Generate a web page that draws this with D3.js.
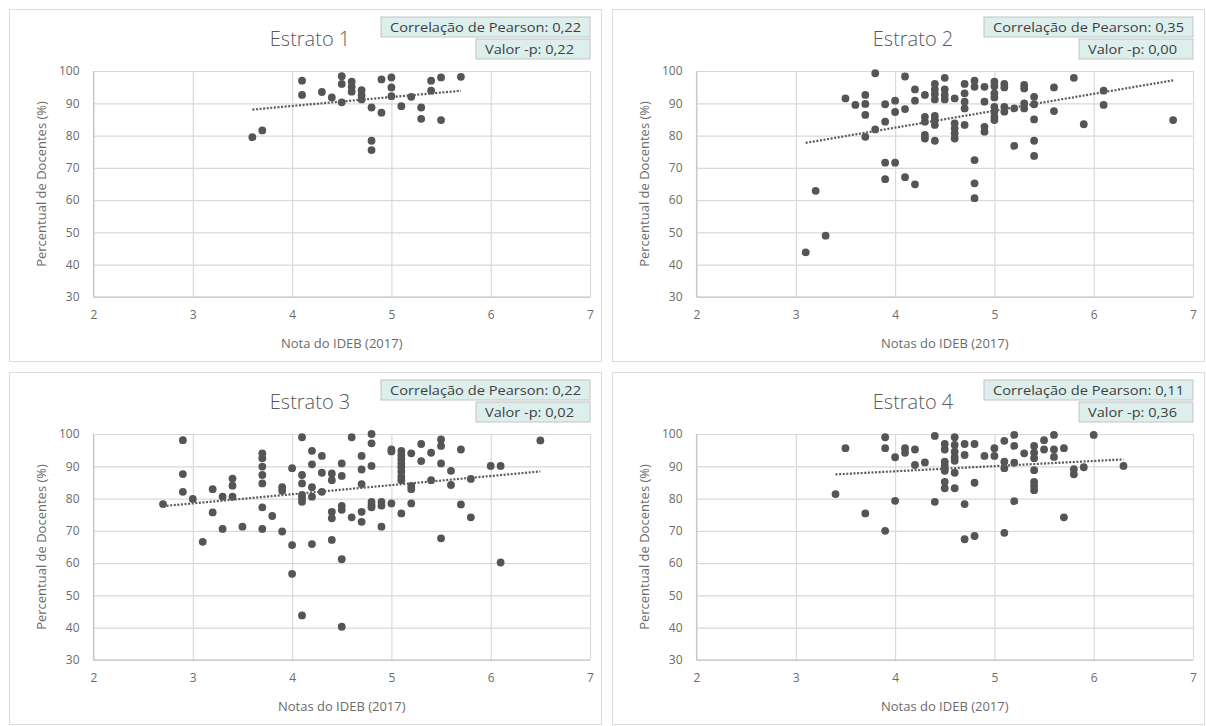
<!DOCTYPE html>
<html>
<head>
<meta charset="utf-8">
<script src="https://cdn.jsdelivr.net/npm/d3@7"></script>
<style>
  body { margin: 0; background: #fff; }
  svg { display: block; font-family: "Open Sans", "Noto Sans", sans-serif; }
</style>
</head>
<body>
<svg id="chart" width="1206" height="726"></svg>
<script>
// ---- Data -------------------------------------------------------------
const titles = ["Estrato 1", "Estrato 2", "Estrato 3", "Estrato 4"];
const xTitles = ["Nota do IDEB (2017)", "Notas do IDEB (2017)", "Notas do IDEB (2017)", "Notas do IDEB (2017)"];
const yTitle = "Percentual de Docentes (%)";
const pearsonLabels = ["Correlação de Pearson: 0,22", "Correlação de Pearson: 0,35", "Correlação de Pearson: 0,22", "Correlação de Pearson: 0,11"];
const pValueLabels = ["Valor -p: 0,22", "Valor -p: 0,00", "Valor -p: 0,02", "Valor -p: 0,36"];
const xTicks = [2, 3, 4, 5, 6, 7];
const yTicks = [30, 40, 50, 60, 70, 80, 90, 100];

// [nota IDEB, percentual de docentes]
const estrato1 = [
  [3.6,79.5],[3.7,81.6],[4.1,97.0],[4.1,92.6],[4.3,93.5],[4.4,91.8],[4.5,98.4],[4.5,96.0],
  [4.5,90.3],[4.6,96.7],[4.6,95.1],[4.6,93.6],[4.7,94.1],[4.7,92.6],[4.7,91.2],[4.8,88.7],
  [4.8,78.4],[4.8,75.5],[4.9,87.1],[4.9,97.4],[5.0,98.0],[5.0,94.9],[5.0,92.2],[5.1,89.1],
  [5.2,92.0],[5.3,88.7],[5.3,85.2],[5.4,97.0],[5.4,93.9],[5.5,98.0],[5.5,84.8],[5.7,98.2]
];
const estrato2 = [
  [3.1,43.8],[3.2,62.9],[3.3,49.0],[3.5,91.5],[3.6,89.5],[3.7,92.6],[3.7,89.8],[3.7,86.4],
  [3.7,79.6],[3.8,99.3],[3.8,81.9],[3.9,89.7],[3.9,84.3],[3.9,71.6],[3.9,66.5],[4.0,90.8],
  [4.0,87.3],[4.0,71.6],[4.1,98.3],[4.1,88.2],[4.1,67.1],[4.2,94.3],[4.2,90.8],[4.2,64.9],
  [4.3,92.6],[4.3,85.8],[4.3,84.3],[4.3,80.2],[4.3,79.1],[4.4,96.0],[4.4,94.3],[4.4,92.8],
  [4.4,91.2],[4.4,86.1],[4.4,84.8],[4.4,83.3],[4.4,78.4],[4.5,97.9],[4.5,94.3],[4.5,92.6],
  [4.5,91.2],[4.6,91.5],[4.6,83.8],[4.6,82.2],[4.6,80.7],[4.6,79.1],[4.7,96.0],[4.7,93.1],
  [4.7,90.5],[4.7,88.4],[4.7,83.3],[4.8,97.0],[4.8,95.1],[4.8,72.4],[4.8,65.2],[4.8,60.6],
  [4.9,95.1],[4.9,90.5],[4.9,82.7],[4.9,81.2],[5.0,96.7],[5.0,95.3],[5.0,93.1],[5.0,91.8],
  [5.0,88.9],[5.0,87.4],[5.0,85.8],[5.0,84.8],[5.1,96.0],[5.1,94.9],[5.1,88.9],[5.1,87.4],
  [5.2,88.4],[5.2,76.8],[5.3,95.7],[5.3,94.6],[5.3,90.0],[5.3,88.4],[5.4,92.0],[5.4,89.7],
  [5.4,85.0],[5.4,78.4],[5.4,73.7],[5.6,94.9],[5.6,87.6],[5.8,97.9],[5.9,83.5],[6.1,93.9],
  [6.1,89.5],[6.8,84.8]
];
const estrato3 = [
  [2.7,78.3],[2.9,98.1],[2.9,87.6],[2.9,82.1],[3.0,79.9],[3.1,66.6],[3.2,82.9],[3.2,75.7],
  [3.3,80.6],[3.3,70.6],[3.4,86.2],[3.4,84.0],[3.4,80.6],[3.5,71.3],[3.7,94.0],[3.7,92.5],
  [3.7,89.9],[3.7,87.3],[3.7,84.7],[3.7,77.3],[3.7,70.6],[3.8,74.6],[3.9,83.5],[3.9,82.4],
  [3.9,69.8],[4.0,89.4],[4.0,65.6],[4.0,56.7],[4.1,99.0],[4.1,87.3],[4.1,84.7],[4.1,81.1],
  [4.1,80.1],[4.1,79.0],[4.1,43.8],[4.2,94.8],[4.2,90.6],[4.2,83.5],[4.2,80.6],[4.2,65.9],
  [4.3,93.2],[4.3,88.0],[4.3,82.1],[4.4,87.8],[4.4,85.7],[4.4,75.9],[4.4,73.9],[4.4,67.2],
  [4.5,90.9],[4.5,87.0],[4.5,77.7],[4.5,76.5],[4.5,61.2],[4.5,40.3],[4.6,99.0],[4.6,74.2],
  [4.7,93.2],[4.7,89.0],[4.7,84.5],[4.7,75.9],[4.7,72.8],[4.8,100.0],[4.8,97.1],[4.8,90.1],
  [4.8,79.0],[4.8,78.0],[4.8,77.3],[4.9,79.0],[4.9,77.8],[4.9,71.3],[5.0,95.2],[5.0,94.6],
  [5.0,78.5],[5.1,94.8],[5.1,93.5],[5.1,92.2],[5.1,90.9],[5.1,89.7],[5.1,88.3],[5.1,86.8],
  [5.1,85.7],[5.1,75.4],[5.2,94.0],[5.2,83.9],[5.2,82.9],[5.2,78.5],[5.3,96.9],[5.3,91.6],
  [5.4,94.2],[5.4,85.7],[5.5,98.3],[5.5,96.3],[5.5,90.9],[5.5,67.7],[5.6,88.6],[5.6,84.2],
  [5.7,95.2],[5.7,78.2],[5.8,86.1],[5.8,74.2],[6.0,90.1],[6.1,90.1],[6.1,60.2],[6.5,98.0]
];
const estrato4 = [
  [3.4,81.4],[3.5,95.6],[3.7,75.4],[3.9,99.0],[3.9,95.6],[3.9,70.0],[4.0,92.8],[4.0,79.3],
  [4.1,95.6],[4.1,94.2],[4.2,95.2],[4.2,90.4],[4.3,91.2],[4.4,99.4],[4.4,79.0],[4.5,96.9],
  [4.5,95.2],[4.5,91.4],[4.5,90.1],[4.5,88.6],[4.5,85.2],[4.5,83.2],[4.6,99.0],[4.6,96.6],
  [4.6,94.5],[4.6,92.8],[4.6,91.7],[4.6,88.0],[4.6,83.2],[4.7,96.9],[4.7,93.5],[4.7,78.3],
  [4.7,67.4],[4.8,96.9],[4.8,84.9],[4.8,68.4],[4.9,93.2],[5.0,95.6],[5.0,93.2],[5.1,97.9],
  [5.1,91.4],[5.1,89.4],[5.1,69.4],[5.2,99.7],[5.2,96.3],[5.2,91.1],[5.2,79.2],[5.3,94.0],
  [5.4,96.3],[5.4,94.2],[5.4,92.5],[5.4,88.8],[5.4,85.2],[5.4,83.9],[5.4,82.6],[5.5,98.1],
  [5.5,95.2],[5.6,99.7],[5.6,95.2],[5.6,92.9],[5.7,95.6],[5.7,74.2],[5.8,89.1],[5.8,87.5],
  [5.9,89.7],[6.0,99.7],[6.3,90.1]
];
const series = [estrato1, estrato2, estrato3, estrato4];

// ---- Drawing ------------------------------------------------------------
const svg = d3.select("#chart");
const panelOrigins = [[0, 0], [603, 0], [0, 363], [603, 363]];
const plot = { left: 93.5, right: 590, top: 71, bottom: 297 };
const textGray = "#6b6b6b";
const gridGray = "#d9d9d9";
const markGray = "#555555";

// least-squares fit, as used by a linear trendline
function linearFit(pts) {
  const n = pts.length;
  const mx = d3.mean(pts, d => d[0]);
  const my = d3.mean(pts, d => d[1]);
  let sxy = 0, sxx = 0;
  pts.forEach(([a, b]) => { sxy += (a - mx) * (b - my); sxx += (a - mx) * (a - mx); });
  const slope = sxy / sxx;
  return x => my + slope * (x - mx);
}

series.forEach((pts, i) => {
  const [ox, oy] = panelOrigins[i];
  const g = svg.append("g").attr("transform", `translate(${ox},${oy})`);

  // panel frame
  g.append("rect")
    .attr("x", 9.5).attr("y", 9.5).attr("width", 592).attr("height", 352)
    .attr("fill", "#fff").attr("stroke", "#dcdcdc").attr("stroke-width", 1);

  const x = d3.scaleLinear().domain([2, 7]).range([plot.left, plot.right]);
  const y = d3.scaleLinear().domain([30, 100]).range([plot.bottom, plot.top]);

  // horizontal gridlines + y labels
  const yAxis = g.append("g")
    .attr("transform", `translate(${plot.left},0)`)
    .call(d3.axisLeft(y).tickValues(yTicks).tickFormat(d3.format("d"))
      .tickSize(-(plot.right - plot.left)).tickPadding(14));
  yAxis.select(".domain").remove();
  yAxis.selectAll("line").attr("stroke", gridGray).attr("stroke-width", 1.2);
  yAxis.selectAll("text").attr("fill", textGray).attr("font-size", 12)
    .attr("font-family", "'Open Sans', sans-serif");

  // vertical gridlines + x labels
  const xAxis = g.append("g")
    .attr("transform", `translate(0,${plot.bottom})`)
    .call(d3.axisBottom(x).tickValues(xTicks).tickFormat(d3.format("d"))
      .tickSize(-(plot.bottom - plot.top)).tickPadding(13));
  xAxis.select(".domain").remove();
  xAxis.selectAll("line").attr("stroke", gridGray).attr("stroke-width", 1.2);
  xAxis.selectAll("text").attr("fill", textGray).attr("font-size", 12)
    .attr("font-family", "'Open Sans', sans-serif");

  // axis lines
  g.append("line")
    .attr("x1", x(2)).attr("x2", x(7)).attr("y1", y(30)).attr("y2", y(30))
    .attr("stroke", "#bfbfbf").attr("stroke-width", 1.2);
  g.append("line")
    .attr("x1", x(2)).attr("x2", x(2)).attr("y1", y(30)).attr("y2", y(100))
    .attr("stroke", "#c8c8c8").attr("stroke-width", 1.2);

  // points
  g.append("g").selectAll("circle").data(pts).join("circle")
    .attr("cx", d => x(d[0])).attr("cy", d => y(d[1])).attr("r", 3.9)
    .attr("fill", markGray);

  // dotted linear trendline across the data range
  const fit = linearFit(pts);
  const [xmin, xmax] = d3.extent(pts, d => d[0]);
  g.append("line")
    .attr("x1", x(xmin)).attr("y1", y(fit(xmin)))
    .attr("x2", x(xmax)).attr("y2", y(fit(xmax)))
    .attr("stroke", "#5a5a5a").attr("stroke-width", 2.2)
    .attr("stroke-dasharray", "2,1.6");

  // titles
  g.append("text")
    .attr("x", 310).attr("y", 46).attr("text-anchor", "middle")
    .attr("font-size", 20).attr("font-weight", 300).attr("fill", "#595959")
    .text(titles[i]);
  g.append("text")
    .attr("x", (plot.left + plot.right) / 2).attr("y", 348).attr("text-anchor", "middle")
    .attr("font-size", 13).attr("fill", textGray)
    .text(xTitles[i]);
  g.append("text")
    .attr("transform", `translate(46,${(plot.top + plot.bottom) / 2 + 0}) rotate(-90)`)
    .attr("text-anchor", "middle")
    .attr("font-size", 13).attr("fill", textGray)
    .text(yTitle);

  // statistic boxes
  const boxFill = "#dcefed";
  g.append("rect").attr("x", 381).attr("y", 17).attr("width", 209).attr("height", 20)
    .attr("fill", boxFill).attr("stroke", "#c4c4c4");
  g.append("text").attr("x", 390).attr("y", 32)
    .attr("font-size", 12.5).attr("fill", "#404040")
    .attr("textLength", 191).attr("lengthAdjust", "spacingAndGlyphs")
    .text(pearsonLabels[i]);
  g.append("rect").attr("x", 476).attr("y", 39).attr("width", 114).attr("height", 20)
    .attr("fill", boxFill).attr("stroke", "#c4c4c4");
  g.append("text").attr("x", 485).attr("y", 54)
    .attr("font-size", 12.5).attr("fill", "#404040")
    .attr("textLength", 89).attr("lengthAdjust", "spacingAndGlyphs")
    .text(pValueLabels[i]);
});
</script>
</body>
</html>
